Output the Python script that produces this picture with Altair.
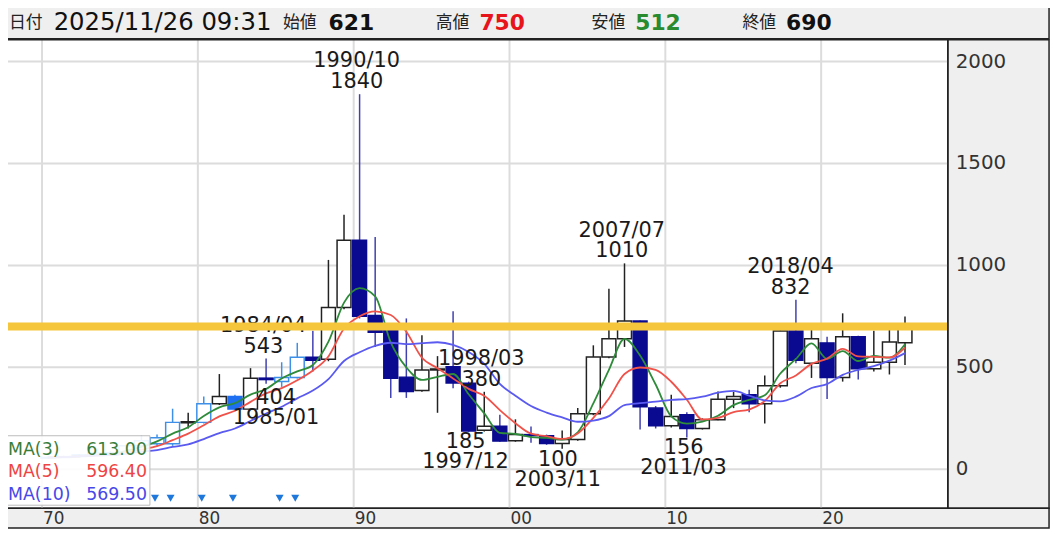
import altair as alt
import pandas as pd

# ---------------- data ----------------
years = list(range(1970, 2026))
opens = [55, 58, 62, 70, 80, 75, 115, 125, 125, 228,
         230, 321, 357, 295, 447, 430, 450, 550, 540, 793,
         1124, 754, 681, 452, 386, 487, 503, 422, 191, 211,
         140, 170, 165, 126, 146, 272, 551, 640, 727, 300,
         214, 268, 200, 243, 344, 365, 321, 410, 678, 520,
         620, 450, 650, 493, 525, 621]
highs = [62, 66, 75, 95, 88, 120, 165, 170, 297, 277,
         357, 467, 365, 496, 543, 525, 620, 680, 1027, 1248,
         1840, 1140, 700, 740, 657, 555, 775, 430, 380, 268,
         245, 210, 170, 190, 300, 608, 886, 1010, 730, 310,
         365, 280, 250, 381, 380, 390, 460, 680, 832, 690,
         650, 765, 655, 680, 685, 750]
lows = [50, 55, 58, 65, 68, 72, 110, 115, 115, 200,
        225, 315, 285, 290, 420, 404, 445, 480, 530, 785,
        740, 600, 350, 350, 380, 277, 398, 185, 185, 135,
        135, 130, 120, 100, 140, 265, 545, 600, 195, 200,
        205, 156, 195, 240, 300, 280, 224, 400, 520, 448,
        345, 430, 440, 480, 465, 512]
closes = [58, 62, 70, 80, 75, 115, 140, 155, 230, 233,
          321, 357, 295, 447, 440, 450, 550, 535, 793, 1124,
          750, 672, 446, 381, 487, 492, 423, 188, 211, 138,
          170, 165, 126, 146, 272, 551, 640, 727, 306, 214,
          259, 200, 243, 344, 357, 321, 410, 678, 535, 640,
          450, 650, 493, 525, 624, 690]
adjusted_years = [1970, 1971, 1972, 1973, 1974, 1975, 1976, 1977, 1978,
                  1980, 1982, 1985, 1986]
marker_years = [1977, 1978, 1980, 1982, 1985, 1986]

ann_pos = [1990.19, 2007.2, 2018.04, 1984.2, 1998.19,
           1985.02, 1997.18, 2003.1, 2011.17]
ann_values = [1840, 1010, 832, 543, 380, 404, 185, 100, 156]
ann_dates = ["1990/10", "2007/07", "2018/04", "1984/04", "1998/03",
             "1985/01", "1997/12", "2003/11", "2011/03"]
ann_side = ["high", "high", "high", "high", "high", "low", "low", "low", "low"]

alert_levels = [700]
y_ticks = [0, 500, 1000, 1500, 2000]
x_ticks = [1970, 1980, 1990, 2000, 2010, 2020]
x_tick_labels = ["70", "80", "90", "00", "10", "20"]

ma_windows = [3, 5, 10]
ma_names = ["MA(3)", "MA(5)", "MA(10)"]
header_date = "2025/11/26 09:31"

# ---------------- styling ----------------
CENTER = 0.38
NUM_FONT = "DejaVu Sans"
JP_FONT = "Noto Sans CJK JP"
NAVY = "#0a0a90"
LIGHT = "#3d8fe8"
WICK = {"up": "#222222", "down": "#4040b0", "lb_up": LIGHT, "lb_down": LIGHT}
FILL = {"up": "#ffffff", "down": NAVY, "lb_up": "#ffffff", "lb_down": "#1f6ff2"}
STROKE = {"up": "#222222", "down": NAVY, "lb_up": LIGHT, "lb_down": "#1f6ff2"}
MA_LINE = ["#2e8b3a", "#f0524a", "#5a5af0"]
MA_TEXT = ["#3a7d3a", "#ee4444", "#4848e8"]

df = pd.DataFrame({"year": years, "open": opens, "high": highs,
                   "low": lows, "close": closes})
df["t"] = df["year"] + CENTER


def style_of(r):
    base = "up" if r["close"] >= r["open"] else "down"
    return ("lb_" + base) if r["year"] in adjusted_years else base


df["style"] = df.apply(style_of, axis=1)
df["wick"] = df["style"].map(WICK)
df["fillc"] = df["style"].map(FILL)
df["strokec"] = df["style"].map(STROKE)

W, H = 947, 472
XS = alt.Scale(domain=[1968.135, 2027.81], nice=False, zero=False)
YS = alt.Scale(domain=[-191, 2107], nice=False, zero=False)
RIGHT = 1049  # right edge of the panels

dummy = alt.Chart(pd.DataFrame({"d": [0]}))
layers = []

# panels
layers.append(dummy.mark_rect(fill="#efefef", stroke="#222", strokeWidth=1.5).encode(
    x=alt.value(W), x2=alt.value(RIGHT), y=alt.value(0), y2=alt.value(H)))
layers.append(dummy.mark_rect(fill="#efefef", stroke="#222", strokeWidth=1.5).encode(
    x=alt.value(-4), x2=alt.value(RIGHT), y=alt.value(H), y2=alt.value(H + 20)))
layers.append(dummy.mark_rect(fill="#efefef", stroke="#222", strokeWidth=1.5).encode(
    x=alt.value(-4), x2=alt.value(RIGHT), y=alt.value(-34), y2=alt.value(-1)))

# grid
layers.append(alt.Chart(pd.DataFrame({"v": y_ticks})).mark_rule(
    color="#dcdcdc", strokeWidth=2).encode(y=alt.Y("v:Q", scale=YS, axis=None)))
layers.append(alt.Chart(pd.DataFrame({"v": x_ticks})).mark_rule(
    color="#dcdcdc", strokeWidth=2).encode(x=alt.X("v:Q", scale=XS, axis=None)))

# candles
base = alt.Chart(df)
layers.append(base.mark_rule(strokeWidth=1.5).encode(
    x=alt.X("t:Q", scale=XS, axis=None),
    y=alt.Y("low:Q", scale=YS, axis=None), y2="high:Q",
    color=alt.Color("wick:N", scale=None)))
layers.append(base.mark_bar(size=14, strokeWidth=1.5).encode(
    x=alt.X("t:Q", scale=XS, axis=None),
    y=alt.Y("open:Q", scale=YS, axis=None), y2="close:Q",
    fill=alt.Fill("fillc:N", scale=None),
    stroke=alt.Stroke("strokec:N", scale=None)))

# moving averages
for w, col in zip(ma_windows, MA_LINE):
    layers.append(base.transform_window(
        ma="mean(close)", frame=[-(w - 1), 0], sort=[alt.SortField("t")]
    ).mark_line(color=col, strokeWidth=1.8, interpolate="monotone").encode(
        x=alt.X("t:Q", scale=XS, axis=None), y=alt.Y("ma:Q", scale=YS, axis=None)))

# annotations
ann = pd.DataFrame({"t": ann_pos, "v": ann_values, "d": ann_dates, "side": ann_side})
ann["vt"] = ann["v"].astype(str)
for side, dv, dd in [("high", -12, -33), ("low", 11, 31)]:
    sub = alt.Chart(ann).transform_filter(alt.datum.side == side)
    for field, dy in [("vt", dv), ("d", dd)]:
        layers.append(sub.mark_text(font=NUM_FONT, fontSize=21, color="#1a1a1a",
                                    baseline="middle", align="center", dy=dy).encode(
            x=alt.X("t:Q", scale=XS, axis=None), y=alt.Y("v:Q", scale=YS, axis=None),
            text=f"{field}:N"))

# alert line
layers.append(alt.Chart(pd.DataFrame({"v": alert_levels})).mark_rule(
    color="#f5c63c", strokeWidth=8).encode(y=alt.Y("v:Q", scale=YS, axis=None)))

# markers
mk = pd.DataFrame({"t": [y + 0.25 for y in marker_years]})
layers.append(alt.Chart(mk).mark_point(shape="triangle-down", filled=True, size=65,
                                       color="#1e78dc", opacity=1).encode(
    x=alt.X("t:Q", scale=XS, axis=None), y=alt.value(462)))

# MA legend box
layers.append(dummy.mark_rect(fill="#ffffff", fillOpacity=0.9, stroke="#bbbbbb",
                              strokeWidth=1).encode(
    x=alt.value(-4), x2=alt.value(143), y=alt.value(399), y2=alt.value(469)))
closes_s = pd.Series(closes)
for i, (w, name, col) in enumerate(zip(ma_windows, ma_names, MA_TEXT)):
    val = f"{closes_s.iloc[-w:].mean():.2f}"
    yy = 413 + i * 23
    layers.append(dummy.mark_text(text=name, font=NUM_FONT, fontSize=17.5, color=col,
                                  align="left", baseline="middle").encode(
        x=alt.value(0), y=alt.value(yy)))
    layers.append(dummy.mark_text(text=val, font=NUM_FONT, fontSize=17.5, color=col,
                                  align="right", baseline="middle").encode(
        x=alt.value(140), y=alt.value(yy)))

# plot border
layers.append(dummy.mark_rect(fillOpacity=0, stroke="#222", strokeWidth=1.5).encode(
    x=alt.value(-4), x2=alt.value(W), y=alt.value(0), y2=alt.value(H)))

# axis labels
layers.append(alt.Chart(pd.DataFrame({"v": y_ticks, "lab": [str(v) for v in y_ticks]}))
              .mark_text(font=NUM_FONT, fontSize=20, color="#333", align="left",
                         baseline="middle").encode(
    x=alt.value(W + 8), y=alt.Y("v:Q", scale=YS, axis=None), text="lab:N"))
layers.append(alt.Chart(pd.DataFrame({"v": x_ticks, "lab": x_tick_labels}))
              .mark_text(font=NUM_FONT, fontSize=17, color="#333", align="left",
                         baseline="middle", dx=1).encode(
    x=alt.X("v:Q", scale=XS, axis=None), y=alt.value(H + 11), text="lab:N"))

# header
hy = -17
header_items = [
    ("日付", 1, JP_FONT, 17, "normal", "#222"),
    (header_date, 46, NUM_FONT, 24.5, "normal", "#111"),
    ("始値", 277, JP_FONT, 17, "normal", "#222"),
    (str(opens[-1]), 323, NUM_FONT, 22, "bold", "#111"),
    ("高値", 431, JP_FONT, 17, "normal", "#222"),
    (str(highs[-1]), 475, NUM_FONT, 22, "bold", "#e8141c"),
    ("安値", 588, JP_FONT, 17, "normal", "#222"),
    (str(lows[-1]), 632, NUM_FONT, 22, "bold", "#2a8a2e"),
    ("終値", 740, JP_FONT, 17, "normal", "#222"),
    (str(closes[-1]), 784, NUM_FONT, 22, "bold", "#111"),
]
for txt, xx, fnt, fs, fw, col in header_items:
    layers.append(dummy.mark_text(text=txt, font=fnt, fontSize=fs, fontWeight=fw,
                                  color=col, align="left", baseline="middle").encode(
        x=alt.value(xx), y=alt.value(hy)))

chart = alt.layer(*layers).properties(
    width=W, height=H,
    padding={"left": 0, "top": 30, "right": 108, "bottom": 24},
    autosize=alt.AutoSizeParams(type="none"),
    background="#ffffff",
).configure_view(strokeWidth=0)

chart.save("out.html", embed_options={"renderer": "svg", "actions": False})
